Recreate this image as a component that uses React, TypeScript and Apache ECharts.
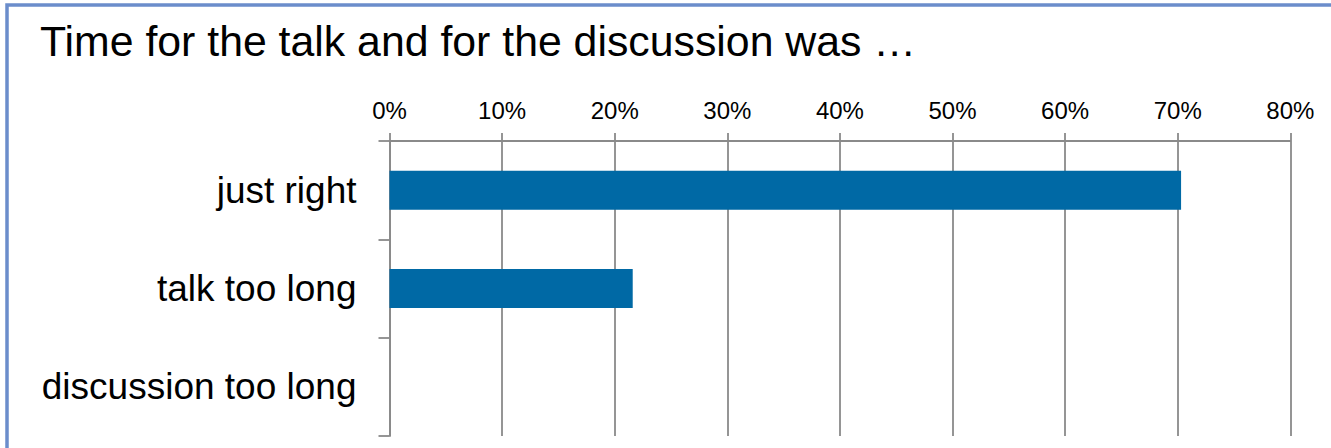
import React, { useEffect, useRef } from "react";
import * as echarts from "echarts";

const categories = ["just right", "talk too long", "discussion too long"];
const shares = [0.703, 0.216, 0];
const titleText = "Time for the talk and for the discussion was …";
const axisMin = 0;
const axisMax = 0.8;
const axisStep = 0.1;

const FONT = "'Liberation Sans', Arial, sans-serif";
const GRAY = "#8a8a8a";

export default function App() {
  const ref = useRef<HTMLDivElement>(null);
  useEffect(() => {
    if (!ref.current) return;
    const chart = echarts.init(ref.current, undefined, { renderer: "svg" });
    chart.setOption({
      animation: false,
      backgroundColor: "#ffffff",
      textStyle: { fontFamily: FONT },
      grid: { left: 389.5, right: 40.7, top: 141, bottom: 12, containLabel: false },
      graphic: [
        {
          type: "rect",
          shape: { x: 7, y: 5, width: 1500, height: 700 },
          style: { fill: "none", stroke: "#6b8dcb", lineWidth: 3.5 },
          silent: true,
        },
        {
          type: "text",
          x: 40,
          y: 40.5,
          style: {
            text: titleText,
            fontSize: 42.8,
            fontFamily: FONT,
            fill: "#000000",
            verticalAlign: "middle",
            align: "left",
          },
        },
      ],
      xAxis: {
        type: "value",
        position: "top",
        min: axisMin,
        max: axisMax,
        interval: axisStep,
        axisLine: { show: true, lineStyle: { color: GRAY, width: 1.8 } },
        axisTick: { show: true, length: 8, lineStyle: { color: GRAY, width: 1.8 } },
        splitLine: { show: true, lineStyle: { color: GRAY, width: 1.8 } },
        axisLabel: {
          fontSize: 24,
          color: "#000000",
          fontFamily: FONT,
          margin: 19,
          formatter: (v: number) => `${Math.round(v * 100)}%`,
        },
      },
      yAxis: {
        type: "category",
        inverse: true,
        data: categories,
        axisLine: { show: true, lineStyle: { color: GRAY, width: 1.8 } },
        axisTick: { show: true, length: 11, alignWithLabel: false, lineStyle: { color: GRAY, width: 1.8 } },
        splitLine: { show: false },
        axisLabel: {
          fontSize: 37,
          color: "#000000",
          fontFamily: FONT,
          margin: 33,
        },
      },
      series: [
        {
          type: "bar",
          data: shares,
          barWidth: 39,
          itemStyle: { color: "#0069a5" },
          z: 3,
        },
      ],
    });
    return () => chart.dispose();
  }, []);
  return (
    <div
      ref={ref}
      style={{ position: "absolute", left: 0, top: 0, width: 1331, height: 448 }}
    />
  );
}
